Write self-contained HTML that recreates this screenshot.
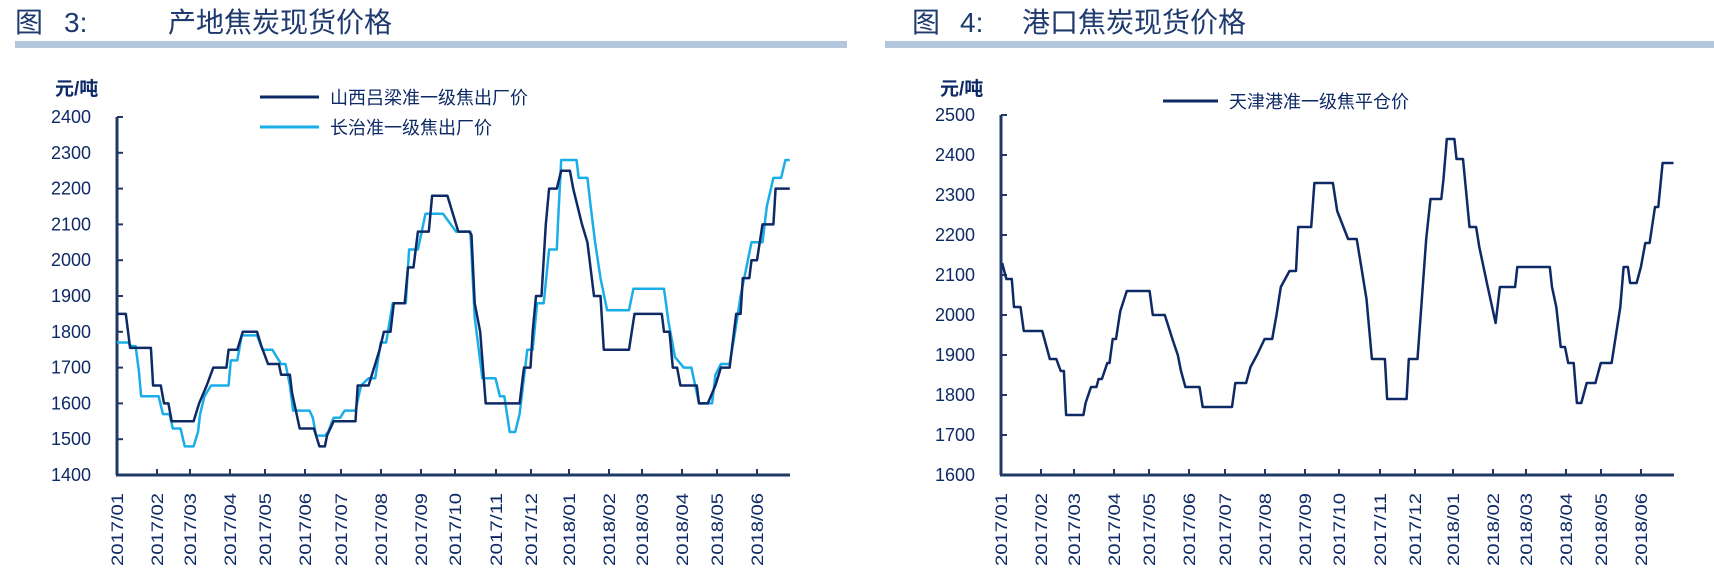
<!DOCTYPE html>
<html><head><meta charset="utf-8">
<style>
html,body{margin:0;padding:0;background:#fff;}
svg{display:block;}
text{font-family:"Liberation Sans","Noto Sans CJK SC",sans-serif;}
</style></head>
<body>
<svg id="s" width="1714" height="578" viewBox="0 0 1714 578" xmlns="http://www.w3.org/2000/svg">
<rect width="1714" height="578" fill="#fff"/>
<text x="15" y="32" font-size="28" fill="#1f3a6e" font-family="Noto Sans CJK SC, sans-serif">图</text>
<text x="64" y="32" font-size="28" fill="#1f3a6e" font-family="Noto Sans CJK SC, sans-serif">3:</text>
<text x="168" y="32" font-size="28" fill="#1f3a6e" font-family="Noto Sans CJK SC, sans-serif">产地焦炭现货价格</text>
<rect x="15" y="41" width="832" height="7" fill="#b4c6dc"/>
<text x="912" y="32" font-size="28" fill="#1f3a6e" font-family="Noto Sans CJK SC, sans-serif">图</text>
<text x="960" y="32" font-size="28" fill="#1f3a6e" font-family="Noto Sans CJK SC, sans-serif">4:</text>
<text x="1022" y="32" font-size="28" fill="#1f3a6e" font-family="Noto Sans CJK SC, sans-serif">港口焦炭现货价格</text>
<rect x="885" y="41" width="829" height="7" fill="#b4c6dc"/>
<g id="g"></g>
</svg>
<script>
var g=document.getElementById('g'),NS="http://www.w3.org/2000/svg";
function el(t,a,txt){var e=document.createElementNS(NS,t);for(var k in a)e.setAttribute(k,a[k]);if(txt!=null)e.textContent=txt;g.appendChild(e);return e;}
var ax="#1f3864",dark="#0e2a66",light="#1aaee8";
var labels=["2017/01","2017/02","2017/03","2017/04","2017/05","2017/06","2017/07","2017/08","2017/09","2017/10","2017/11","2017/12","2018/01","2018/02","2018/03","2018/04","2018/05","2018/06"];
var ticks=[117,157,190,230,265,305,341,381,421,455,496,531,569,609,642,682,717,757];
function chart(off,y0,vmin,vmax,step,pxper,yl){
  var top=475-(vmax-vmin)/100*pxper;
  el('line',{x1:117+off,y1:top,x2:117+off,y2:475,stroke:ax,'stroke-width':3});
  el('line',{x1:116+off,y1:475,x2:790+off,y2:475,stroke:ax,'stroke-width':3});
  for(var v=vmin;v<=vmax;v+=step){var y=475-(v-vmin)/100*pxper;
    el('line',{x1:117+off,y1:y,x2:123+off,y2:y,stroke:ax,'stroke-width':2});
    el('text',{x:yl,y:y+6,'font-size':18,fill:"#0e2a66",'text-anchor':'end'},v);}
  ticks.forEach(function(t,i){if(i>0)el('line',{x1:t+off,y1:469,x2:t+off,y2:475,stroke:ax,'stroke-width':2});
    el('text',{x:0,y:0,'font-size':17,fill:"#0e2a66",'text-anchor':'end',textLength:73,lengthAdjust:'spacingAndGlyphs',transform:'translate('+(t+off+6)+',493) rotate(-90)'},labels[i]);});
  el('text',{x:(off?940:55),y:95,'font-size':19,'font-weight':'bold',fill:"#0e2a66",'font-family':'Noto Sans CJK SC, sans-serif'},'元/吨');
}
chart(0,0,1400,2400,100,35.8,91);
chart(884,0,1600,2500,100,40,975);
function path(d,fx,fy,col,w){var s="";var pts=[];d.forEach(function(a){pts.push([fx(a[0]),fy(a[1])]);if(a.length>2)pts.push([fx(a[2]),fy(a[1])]);});
  pts.forEach(function(p,i){s+=(i?"L":"M")+p[0].toFixed(1)+","+p[1].toFixed(1);});
  el('path',{d:s,fill:'none',stroke:col,'stroke-width':w,'stroke-linejoin':'round'});}
var lx=function(p){return 117+(p-110)*1.094;}, ly=function(v){return 475-(v-1400)*0.358;};
var rx=function(p){return 1001+(p-912)*1.0846;}, ry=function(v){return 475-(v-1600)*0.40;};
var L=[[110,1770,120],[123,1760,127],[130,1690],[132,1620,148],[152,1570,158],[161,1530,168],[172,1480,180],[184,1520],[186,1570],[190,1620],[196,1650,212],[214,1720,220],[224,1790,238],[243,1750,252],[260,1710,264],[268,1650],[271,1580,286],[289,1560],[292,1510,300],[303,1520],[308,1560,314],[318,1580,328],[333,1650],[340,1670,346],[351,1770,356],[362,1880,374],[377,2030,385],[392,2130,408],[420,2080,433],[437,1840],[444,1670,456],[460,1620,464],[469,1520,474],[478,1570],[485,1750,490],[494,1880,500],[505,2030,512],[513,2100],[516,2280,530],[532,2230,540],[543,2150],[547,2050],[552,1950],[558,1860,578],[582,1920,610],[614,1830],[620,1730],[628,1700,635],[642,1600,654],[657,1680],[662,1710,670],[675,1800],[680,1900],[690,2050,700],[704,2150],[710,2230,717],[721,2280,725]];
var D=[[110,1850,118],[122,1755,141],[143,1650,150],[153,1600,157],[160,1550,180],[185,1600],[192,1650],[198,1700,210],[212,1750,220],[225,1800,238],[242,1760],[248,1710,258],[260,1680,268],[270,1630],[277,1530,290],[295,1480,300],[302,1510],[308,1550,328],[330,1650,340],[345,1700],[350,1750],[354,1800,360],[363,1880,373],[376,1980,381],[385,2080,395],[398,2180,412],[422,2080,432],[434,2070],[437,1880],[442,1800],[447,1600,478],[482,1700,488],[490,1800],[493,1900,498],[502,2100],[505,2200,512],[516,2250,524],[527,2200],[535,2100],[540,2050],[546,1900,552],[555,1750,578],[583,1850,608],[610,1800,615],[618,1700,622],[625,1650,640],[642,1600,650],[657,1650],[662,1700,670],[676,1850,680],[682,1950,688],[690,2000,695],[700,2100,710],[712,2200,725]];
var R=[[913,2130],[917,2090,922],[924,2020,930],[933,1960,950],[953,1930],[957,1890,963],[967,1860,970],[972,1750,988],[990,1780],[995,1820,1000],[1002,1840,1005],[1010,1880,1012],[1015,1940,1018],[1022,2010],[1028,2060,1049],[1052,2000,1063],[1070,1940],[1075,1900],[1078,1860],[1082,1820,1095],[1098,1770,1125],[1128,1830,1138],[1142,1870],[1148,1900],[1155,1940,1162],[1166,2000],[1170,2070],[1178,2110,1184],[1186,2220,1198],[1201,2330,1218],[1222,2260],[1232,2190,1240],[1243,2140],[1249,2040],[1254,1890,1266],[1268,1790,1286],[1288,1890,1296],[1299,2000],[1304,2190],[1308,2290,1318],[1320,2340],[1323,2440,1330],[1332,2390,1338],[1344,2220,1350],[1353,2170],[1360,2080],[1368,1980],[1372,2070,1386],[1388,2120,1418],[1420,2070],[1424,2020],[1428,1920,1432],[1435,1880,1440],[1443,1780,1447],[1452,1830,1460],[1465,1880,1475],[1483,2020],[1486,2120,1490],[1492,2080,1498],[1502,2120],[1506,2180,1510],[1515,2270,1518],[1522,2380,1532]];
path(L,lx,ly,light,2.5);
path(D,lx,ly,dark,2.5);
path(R,rx,ry,dark,2.5);
el('line',{x1:260,y1:97,x2:319,y2:97,stroke:dark,'stroke-width':3});
el('text',{x:330,y:104,'font-size':18,fill:"#0e2a66",'font-family':'Noto Sans CJK SC, sans-serif'},'山西吕梁准一级焦出厂价');
el('line',{x1:260,y1:127,x2:319,y2:127,stroke:light,'stroke-width':3});
el('text',{x:330,y:134,'font-size':18,fill:"#0e2a66",'font-family':'Noto Sans CJK SC, sans-serif'},'长治准一级焦出厂价');
el('line',{x1:1163,y1:101,x2:1218,y2:101,stroke:dark,'stroke-width':3});
el('text',{x:1229,y:108,'font-size':18,fill:"#0e2a66",'font-family':'Noto Sans CJK SC, sans-serif'},'天津港准一级焦平仓价');
</script>
</body></html>
